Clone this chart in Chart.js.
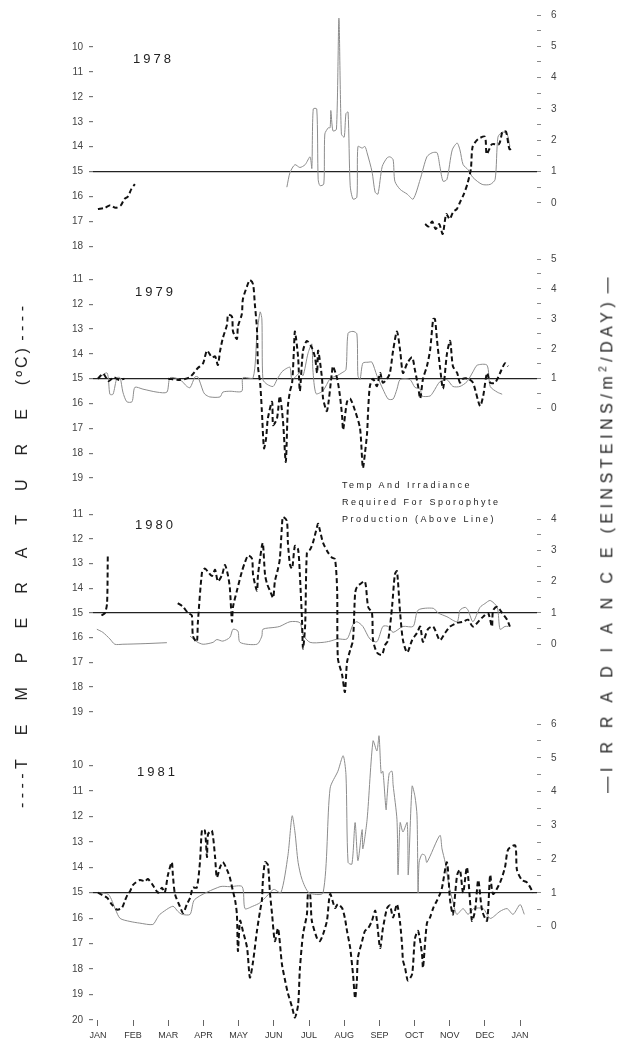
<!DOCTYPE html>
<html>
<head>
<meta charset="utf-8">
<script src="https://cdn.jsdelivr.net/npm/chart.js@4.4.0/dist/chart.umd.min.js"></script>
<style>
body { margin:0; background:#fff; width:624px; height:1044px; position:relative; overflow:hidden; font-family:"Liberation Sans", Arial, sans-serif; color:#222; }
canvas { position:absolute; left:0; }
.year { position:absolute; font-size:13px; letter-spacing:3px; line-height:16px; }
.note { position:absolute; left:342px; top:477px; font-size:9px; letter-spacing:2.5px; line-height:17px; }
.ytitle { position:absolute; white-space:nowrap; font-size:16px; transform:translate(-50%,-50%) rotate(-90deg); }
.wideT { letter-spacing:24px; }
.wideI { letter-spacing:14px; }
.unitsT { letter-spacing:3px; }
.unitsI { letter-spacing:4.5px; }
</style>
</head>
<body>
<canvas id="c1978" width="624" height="264" style="top:-1px"></canvas>
<canvas id="c1979" width="624" height="251" style="top:243px"></canvas>
<canvas id="c1980" width="624" height="230" style="top:500px"></canvas>
<canvas id="c1981" width="624" height="336" style="top:708px"></canvas>

<div class="year" style="left:133px;top:51px">1978</div>
<div class="year" style="left:135px;top:284px">1979</div>
<div class="year" style="left:135px;top:517px">1980</div>
<div class="year" style="left:137px;top:764px">1981</div>
<div class="note">Temp And Irradiance<br>Required For Sporophyte<br>Production (Above Line)</div>
<div class="ytitle" style="left:22px;top:557px">- - - - <span class="wideT">TEMPERATURE</span><span class="unitsT">(ºC)</span> - - - -</div>
<div class="ytitle" style="left:607px;top:535px">— <span class="wideI">IRRADIANCE</span><span class="unitsI">(EINSTEINS/m<sup style="font-size:10px">2</sup>/DAY)</span> —</div>

<script>
// x values are in months from 1 January (0 = JAN, 12 = next JAN)
var monthLabels = ['JAN','FEB','MAR','APR','MAY','JUN','JUL','AUG','SEP','OCT','NOV','DEC','JAN'];
var threshold = 15;   // temperature needed for sporophyte production (irradiance 1 sits on the same line)

var tempTicks1978 = [10,11,12,13,14,15,16,17,18];
var tempTicks1979 = [11,12,13,14,15,16,17,18,19];
var tempTicks1980 = [11,12,13,14,15,16,17,18,19];
var tempTicks1981 = [10,11,12,13,14,15,16,17,18,19,20];
var irrTicks1978 = [0,1,2,3,4,5,6];
var irrTicks1979 = [0,1,2,3,4,5];
var irrTicks1980 = [0,1,2,3,4];
var irrTicks1981 = [0,1,2,3,4,5,6];

// 1978
var temp1978X = [0,0.2,0.35,0.5,0.65,0.75,0.85,0.95,1.05,1.1,
  9.3,9.4,9.5,9.6,9.7,9.8,9.9,10.0,10.1,10.2,10.3,10.4,10.5,10.6,10.65,10.8,11.0,11.05,11.2,11.4,11.5,11.6,11.7,11.8];
var temp1978Y = [16.5,16.45,16.35,16.45,16.35,16.1,16.0,15.7,15.5,null,
  17.1,17.2,17.0,17.3,17.1,17.5,16.7,16.9,16.6,16.5,16.2,15.9,15.5,14.9,14.0,13.7,13.6,14.3,13.9,13.9,13.4,13.4,14.1,14.0];
var irr1978X = [5.37,5.46,5.6,5.74,5.89,6.03,6.08,6.12,6.22,6.26,6.31,6.42,6.45,6.55,6.6,6.62,6.68,6.78,6.85,6.92,
  7.0,7.05,7.11,7.17,7.25,7.36,7.39,7.51,7.59,7.65,7.79,7.88,7.96,8.08,8.22,8.3,8.39,8.44,8.59,8.79,
  8.96,9.16,9.35,9.5,9.64,9.72,9.81,9.92,10.07,10.21,10.29,10.38,10.52,10.66,10.92,11.15,11.29,11.37,11.49,11.63,11.71];
var irr1978Y = [0.5,0.97,1.22,1.13,1.22,1.47,1.1,3.0,3.0,0.75,0.55,0.6,2.2,2.4,2.4,2.95,2.3,2.35,5.9,2.2,
  2.1,2.85,2.9,0.55,0.12,0.18,1.8,1.75,1.8,1.6,1.0,0.34,0.28,1.16,1.44,1.47,1.38,0.69,0.43,0.28,
  0.12,0.75,1.47,1.6,1.6,1.16,0.69,0.75,1.69,1.91,1.69,1.22,1.06,0.81,0.59,0.59,0.75,2.1,2.26,2.2,1.8];

// 1979
var temp1979X = [0,0.15,0.3,0.45,0.6,0.75,0.8,2.0,2.3,2.6,
  2.84,2.99,3.1,3.24,3.33,3.41,3.47,3.55,3.67,3.7,3.81,3.84,3.95,3.98,4.09,4.12,4.24,4.32,4.41,4.46,
  4.52,4.55,4.61,4.66,4.72,4.78,4.83,4.95,4.98,5.09,5.17,5.26,5.34,5.4,5.46,5.52,5.57,5.6,5.69,5.74,
  5.83,5.94,6.08,6.17,6.23,6.26,6.37,6.4,6.51,6.65,6.68,6.8,6.88,6.94,6.97,7.08,7.17,7.31,7.45,7.53,
  7.59,7.65,7.68,7.73,7.82,7.93,8.02,8.1,8.22,8.3,8.39,8.5,8.59,8.67,8.79,8.93,9.01,9.1,9.16,9.24,
  9.35,9.44,9.53,9.58,9.64,9.72,9.81,9.92,10.01,10.09,10.21,10.29,10.38,10.52,10.66,10.86,10.95,11.06,11.15,11.29,
  11.43,11.57,11.66];
var temp1979Y = [15.0,14.8,15.1,14.95,15.05,15.0,null,15.0,15.05,14.95,
  14.57,14.38,13.87,14.14,14.1,14.45,13.9,13.37,12.82,12.43,12.5,13.1,13.4,12.9,12.4,11.8,11.27,11.03,11.2,12.0,
  12.98,14.53,15.16,16.3,17.8,17.4,16.6,15.93,16.87,16.6,15.7,16.7,18.35,16.1,15.5,15.16,13.87,13.1,14.14,15.5,
  13.87,13.48,13.75,14.14,14.77,13.87,15.0,15.8,16.3,14.77,14.5,15.0,15.7,16.5,17.06,15.93,15.8,16.3,17.0,18.6,
  18.0,17.2,16.3,15.3,15.0,15.3,14.77,15.16,15.0,14.77,13.87,13.1,13.87,14.77,14.38,14.14,14.65,15.3,15.8,15.0,
  14.5,13.87,12.6,12.6,13.48,14.5,15.4,14.0,13.48,14.5,14.77,15.16,15.0,15.0,15.16,16.1,15.7,14.77,15.16,15.16,
  14.77,14.38,14.5];
var irr1979X = [0,0.26,0.34,0.43,0.54,0.63,0.71,0.82,0.97,1.05,1.28,1.68,1.96,2.05,2.33,2.53,2.62,2.76,2.84,2.99,
  3.04,3.18,3.47,3.55,3.75,4.09,4.12,4.41,4.52,4.61,4.66,4.69,4.81,4.98,5.09,5.23,5.37,5.46,5.52,5.74,
  5.83,5.97,6.08,6.11,6.2,6.4,6.6,6.8,6.94,7.05,7.11,7.25,7.36,7.39,7.45,7.53,7.68,7.79,7.93,8.1,
  8.25,8.39,8.5,8.59,8.87,9.01,9.16,9.21,9.44,9.53,9.72,9.92,10.09,10.29,10.49,10.66,10.78,11.06,11.15,11.35,11.49];
var irr1979Y = [1.0,1.19,0.48,0.48,1.03,1.03,0.55,0.23,0.23,0.71,0.65,0.55,0.55,1.03,0.97,0.74,0.7,1.06,1.06,0.58,
  0.48,0.39,0.39,0.55,0.58,0.58,1.03,1.03,2.48,3.23,3.0,0.97,0.81,0.74,0.97,1.23,1.35,1.38,0.97,1.2,
  1.1,1.84,2.16,1.3,0.5,0.6,1.0,1.1,1.2,1.3,2.52,2.58,2.5,1.1,0.97,1.52,1.55,1.55,1.1,0.65,
  0.32,0.32,0.65,0.97,0.97,0.71,0.65,0.42,0.42,0.55,0.9,0.97,0.74,0.74,0.9,1.23,1.45,1.45,0.74,0.55,0.48];

// 1980
var temp1980X = [0.1,0.2,0.26,0.28,0.3,
  2.27,2.42,2.56,2.67,2.7,2.81,2.84,2.96,3.04,3.13,3.24,3.33,3.41,3.53,3.61,3.7,3.75,3.81,3.84,3.95,
  4.09,4.18,4.27,4.38,4.41,4.52,4.55,4.66,4.69,4.75,4.81,4.89,4.98,5.03,5.12,5.17,5.23,5.26,5.37,5.4,
  5.46,5.52,5.6,5.69,5.74,5.8,5.83,5.89,5.94,6.03,6.11,6.23,6.26,6.31,6.4,6.54,6.65,6.74,6.8,6.82,
  6.94,7.02,7.08,7.17,7.25,7.31,7.36,7.45,7.59,7.68,7.79,7.82,7.93,8.07,8.16,8.25,8.36,8.44,8.5,8.59,
  8.67,8.79,8.93,9.07,9.16,9.24,9.38,9.53,9.72,9.87,10.01,10.21,10.38,10.52,10.66,10.86,10.95,11.09,11.2,11.23,
  11.35,11.49,11.63,11.71];
var temp1980Y = [15.1,15.0,14.6,12.7,null,
  14.6,14.75,15.0,15.1,15.93,16.17,15.4,13.33,13.2,13.33,13.5,13.25,13.72,13.45,13.05,13.5,13.99,15.35,14.75,14.1,
  13.33,12.94,12.67,12.8,13.45,14.1,13.45,12.28,12.16,13.45,13.83,14.1,14.38,13.72,13.2,12.82,11.5,11.11,11.27,12.16,
  13.05,13.2,12.28,12.43,13.45,15.27,16.44,15.5,12.55,12.43,12.16,11.5,11.38,11.65,12.16,12.55,12.75,12.82,14.1,16.83,
  17.5,18.2,17.0,16.5,16.1,14.2,13.95,13.83,13.72,14.75,15.0,16.1,16.6,16.7,16.3,16.1,14.75,13.44,13.3,15.0,
  16.1,16.6,16.1,15.8,15.55,16.17,15.65,15.55,16.1,15.8,15.55,15.4,15.35,15.27,15.55,15.27,15.15,15.0,15.55,14.9,
  14.75,15.0,15.27,15.55];
var irr1980X = [-0.03,0.14,0.34,0.48,0.71,1.34,1.96,2.1,
  2.62,2.81,2.99,3.27,3.38,3.55,3.75,3.84,3.98,4.04,4.52,4.66,4.69,5.03,5.17,5.46,5.74,5.83,6.03,6.4,6.6,6.82,
  7.08,7.25,7.36,7.53,7.73,7.93,8.1,8.25,8.39,8.67,8.96,9.1,9.53,9.67,9.92,10.21,10.29,10.44,10.52,10.66,
  10.86,11.0,11.15,11.35,11.43,11.57,11.66];
var irr1980Y = [0.48,0.38,0.17,0.0,0.0,0.02,0.05,null,
  0.26,0.08,0.0,0.06,0.15,0.1,0.22,0.48,0.42,0.06,0.0,0.26,0.48,0.54,0.57,0.72,0.69,0.3,0.06,0.06,0.1,0.17,
  0.17,0.63,0.72,0.57,0.17,0.08,0.57,0.57,0.38,0.57,0.57,1.09,1.15,1.0,0.88,0.72,1.09,1.18,1.09,0.72,
  1.18,1.3,1.4,1.18,0.48,0.57,0.57];

// 1981
var temp1981X = [0,0.26,0.4,0.54,0.68,0.77,0.85,0.91,1.0,1.19,1.34,1.42,1.56,1.71,1.82,1.9,1.99,2.1,2.13,2.19,
  2.33,2.42,2.53,2.62,2.7,2.81,2.9,2.96,3.04,3.1,3.13,3.24,3.33,3.38,3.47,3.55,3.67,3.75,3.84,3.9,
  3.95,3.98,4.04,4.12,4.24,4.32,4.41,4.52,4.61,4.66,4.69,4.75,4.83,4.89,4.95,5.03,5.12,5.23,5.32,5.4,
  5.52,5.6,5.69,5.74,5.83,5.94,5.97,6.03,6.08,6.23,6.31,6.4,6.51,6.6,6.74,6.82,6.94,7.02,7.08,7.17,
  7.25,7.31,7.36,7.39,7.51,7.59,7.68,7.79,7.88,7.93,8.02,8.1,8.22,8.3,8.39,8.5,8.59,8.65,8.67,8.73,
  8.81,8.93,9.01,9.1,9.21,9.24,9.35,9.44,9.53,9.64,9.72,9.78,9.92,10.01,10.09,10.21,10.29,10.38,10.49,10.63,
  10.72,10.81,10.92,11.06,11.15,11.23,11.43,11.57,11.66,11.86,11.91,12.05,12.2,12.37];
var temp1981Y = [15.0,15.2,15.47,15.66,15.6,15.3,15.05,14.95,14.69,14.5,14.55,14.46,14.7,15.0,14.8,15.0,14.3,13.8,14.3,15.05,
  15.54,15.8,15.45,15.2,14.8,14.8,13.8,12.52,12.56,13.6,12.7,12.56,13.6,14.4,14.0,13.8,14.1,14.4,14.95,15.3,
  15.85,17.29,16.1,16.5,17.17,18.33,17.7,16.5,15.7,15.3,14.5,13.8,13.9,15.0,15.85,16.9,16.4,17.8,18.45,18.95,
  19.5,19.9,19.4,18.0,16.63,15.85,15.05,15.05,16.1,16.8,16.9,16.63,16.1,15.05,15.6,15.45,15.6,16.0,16.5,17.17,
  18.2,19.15,18.45,17.55,16.9,16.5,16.4,16.1,15.7,16.1,17.17,16.4,15.6,15.5,15.97,15.45,16.2,17.17,17.65,17.95,
  18.45,18.2,16.8,16.5,17.4,17.95,16.2,15.97,15.6,15.3,15.05,14.8,13.8,15.3,15.85,14.3,14.1,15.0,14.0,16.1,
  15.7,14.5,15.7,16.1,14.3,15.05,14.6,14.0,13.3,13.14,14.1,14.5,14.6,15.0];
var irr1981X = [0,0.3,0.5,0.63,0.91,1.19,1.56,1.68,1.76,2.13,2.27,2.39,2.62,2.75,3.47,3.75,4.1,4.18,4.4,4.6,
  4.8,5.0,5.2,5.4,5.52,5.6,5.69,5.8,6.0,6.4,6.6,6.82,6.97,7.05,7.11,7.22,7.31,7.39,7.51,7.53,
  7.65,7.82,7.93,7.99,8.05,8.1,8.19,8.22,8.28,8.36,8.39,8.5,8.53,8.59,8.67,8.79,8.82,8.93,9.01,9.07,
  9.1,9.13,9.21,9.3,9.35,9.72,9.78,9.87,9.98,10.1,10.2,10.38,10.52,10.68,10.95,11.15,11.43,11.63,11.8,12.0,12.12];
var irr1981Y = [1.0,0.95,0.5,0.24,0.15,0.1,0.06,0.24,0.36,0.6,0.45,0.36,0.36,0.8,1.18,1.18,1.18,0.53,0.6,0.7,
  0.9,1.1,1.0,2.1,3.28,2.8,1.9,1.4,1.0,1.0,4.1,4.6,5.06,4.5,1.9,1.85,3.08,1.95,2.87,2.3,
  3.16,5.5,5.2,5.65,4.54,4.6,3.46,3.86,4.54,4.6,4.2,3.16,1.53,3.08,2.8,3.08,1.53,4.16,3.86,3.28,
  1.0,1.9,2.14,2.1,1.9,2.7,2.3,1.9,1.2,0.7,0.36,0.53,0.36,0.53,0.53,0.24,0.45,0.53,0.36,0.65,0.36];

function pts(xs, ys) {
    var out = [];
    for (var i = 0; i < xs.length; i++) {
        out.push({x: xs[i], y: ys[i]});
    }
    return out;
}

var tickFont = {family: 'Liberation Sans', size: 10};

function creaPannello(id, tMin, tMax, iMin, iMax, tTicks, iTicks, temp, irr, showX) {
    var ctx = document.getElementById(id);
    new Chart(ctx, {
        type: 'line',
        data: {
            datasets: [{
                label: 'Temperature',
                data: temp,
                yAxisID: 'yT',
                borderColor: '#111',
                borderWidth: 2,
                borderDash: [5, 3],
                pointRadius: 0,
                tension: 0.25,
                spanGaps: false
            }, {
                label: 'Irradiance',
                data: irr,
                yAxisID: 'yI',
                borderColor: '#8c8c8c',
                borderWidth: 1,
                pointRadius: 0,
                tension: 0.25,
                spanGaps: false
            }]
        },
        options: {
            responsive: false,
            animation: false,
            events: [],
            layout: {padding: {top: 12, bottom: showX ? 0 : 12, left: 0, right: 0}},
            plugins: {legend: {display: false}, tooltip: {enabled: false}},
            scales: {
                x: {
                    type: 'linear',
                    display: showX,
                    min: -0.14,
                    max: 12.48,
                    afterBuildTicks: function(s) { s.ticks = monthLabels.map(function(l, i) { return {value: i}; }); },
                    afterFit: function(s) { s.height = showX ? 24 : 0; },
                    ticks: {
                        autoSkip: false, maxRotation: 0, padding: 4, color: '#333',
                        font: {family: 'Liberation Sans', size: 9},
                        callback: function(v) { return monthLabels[v]; }
                    },
                    grid: {drawOnChartArea: false, tickLength: 6, color: '#666'},
                    border: {display: false}
                },
                yT: {
                    position: 'left',
                    reverse: true,
                    min: tMin,
                    max: tMax,
                    afterFit: function(s) { s.width = 93; },
                    afterBuildTicks: function(s) { s.ticks = tTicks.map(function(v) { return {value: v}; }); },
                    ticks: {color: '#444', padding: 6, font: tickFont},
                    grid: {
                        color: function(c) { return c.tick && c.tick.value === threshold ? '#222' : 'rgba(0,0,0,0)'; },
                        tickColor: '#777',
                        tickLength: 4,
                        lineWidth: 1.2
                    },
                    border: {display: false}
                },
                yI: {
                    position: 'right',
                    min: iMin,
                    max: iMax,
                    afterFit: function(s) { s.width = 87; },
                    afterBuildTicks: function(s) {
                        var t = [];
                        iTicks.forEach(function(v, i) {
                            t.push({value: v});
                            if (i < iTicks.length - 1) t.push({value: v + 0.5});
                        });
                        s.ticks = t;
                    },
                    ticks: {
                        color: '#444', padding: 10, font: tickFont,
                        callback: function(v) { return Number.isInteger(v) ? v : ''; }
                    },
                    grid: {drawOnChartArea: false, tickLength: 4, color: '#888'},
                    border: {display: false}
                }
            }
        }
    });
}

creaPannello('c1978', 8.72, 18.02, -1.41, 6, tempTicks1978, irrTicks1978,
    pts(temp1978X, temp1978Y), pts(irr1978X, irr1978Y), false);
creaPannello('c1979', 10.18, 19.0, -2.32, 5, tempTicks1979, irrTicks1979,
    pts(temp1979X, temp1979Y), pts(irr1979X, irr1979Y), false);
creaPannello('c1980', 11.07, 19.09, -2.23, 4.1, tempTicks1980, irrTicks1980,
    pts(temp1980X, temp1980Y), pts(irr1980X, irr1980Y), false);
creaPannello('c1981', 8.37, 20.0, -2.77, 6, tempTicks1981, irrTicks1981,
    pts(temp1981X, temp1981Y), pts(irr1981X, irr1981Y), true);
</script>
</body>
</html>
